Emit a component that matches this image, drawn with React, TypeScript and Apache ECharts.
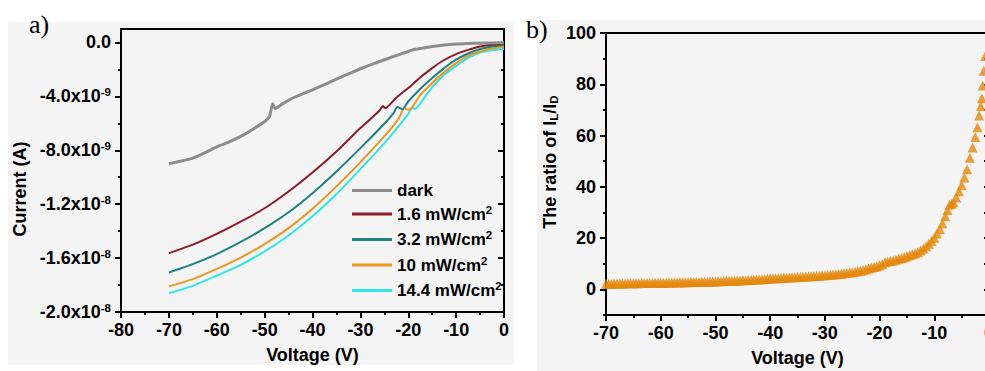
import React, { useEffect, useRef } from 'react';
import * as echarts from 'echarts';

// ---------- Panel a: I-V curves (current in nA) ----------
const darkV = [-70, -67.5, -65, -62.5, -60, -57.5, -55, -52.5, -50, -49, -48.3, -47.8, -46, -44, -42, -40, -37.5, -35, -32.5, -30, -27.5, -25, -22.5, -20, -19, -17, -15, -12.5, -10, -7.5, -5, -2.5, 0];
const darkI = [-9.0, -8.8, -8.58, -8.2, -7.75, -7.4, -6.97, -6.45, -5.86, -5.5, -4.55, -4.9, -4.5, -4.1, -3.8, -3.51, -3.12, -2.72, -2.33, -1.95, -1.6, -1.28, -0.97, -0.67, -0.54, -0.42, -0.3, -0.19, -0.12, -0.08, -0.05, -0.03, -0.02];

const l16V = [-70, -65, -60, -55, -50, -45, -40, -35, -30, -27.5, -26, -25.3, -24.8, -22.5, -20, -17.5, -15, -12.5, -10, -7.5, -5, -2.5, 0];
const l16I = [-15.63, -15.0, -14.2, -13.3, -12.3, -11.06, -9.65, -8.09, -6.35, -5.55, -5.05, -4.72, -4.88, -4.1, -3.38, -2.6, -1.9, -1.3, -0.86, -0.55, -0.3, -0.17, -0.12];

const l32V = [-70, -65, -60, -55, -50, -45, -40, -35, -30, -25, -23, -22.3, -21.8, -21.2, -20, -17.5, -15, -12.5, -10, -7.5, -5, -2.5, 0];
const l32I = [-17.07, -16.45, -15.7, -14.8, -13.78, -12.6, -11.18, -9.57, -7.84, -6.03, -5.2, -4.78, -4.85, -4.95, -4.38, -3.45, -2.64, -1.9, -1.28, -0.82, -0.49, -0.3, -0.19];

const l10V = [-70, -65, -60, -55, -50, -45, -40, -35, -30, -25, -22, -20.8, -20.2, -19.5, -17.5, -15, -12.5, -10, -7.5, -5, -2.5, 0];
const l10I = [-18.1, -17.56, -16.8, -15.96, -14.96, -13.78, -12.34, -10.68, -8.88, -6.97, -5.65, -4.85, -4.98, -4.95, -3.9, -3.01, -2.2, -1.53, -1.0, -0.67, -0.45, -0.34];

const l144V = [-70, -65, -60, -55, -50, -45, -40, -35, -30, -25, -22, -20, -19.2, -18.6, -18, -15, -12.5, -10, -7.5, -5, -2.5, 0];
const l144I = [-18.6, -18.06, -17.3, -16.5, -15.5, -14.32, -12.9, -11.25, -9.4, -7.47, -6.2, -5.3, -4.8, -4.95, -4.75, -3.31, -2.4, -1.74, -1.15, -0.74, -0.57, -0.49];

const seriesNames = ['dark', '1.6 mW/cm2', '3.2 mW/cm2', '10 mW/cm2', '14.4 mW/cm2'];
const seriesColors = ['#8c8c8c', '#8b1c24', '#1f8080', '#ea961f', '#30e4ea'];
const seriesWidths = [3, 2, 2, 2, 2];

const currentTicks = [0, -4, -8, -12, -16, -20];
const currentTickBase = ['0.0', '-4.0x10', '-8.0x10', '-1.2x10', '-1.6x10', '-2.0x10'];
const currentTickExp = ['', '-9', '-9', '-8', '-8', '-8'];
const currentMinorTicks = [-2, -6, -10, -14, -18];

// ---------- Panel b: ratio IL/ID ----------
const ratioV = [
  -70, -69.5, -69, -68.5, -68, -67.5, -67, -66.5, -66, -65.5, -65, -64.5, -64, -63.5, -63, -62.5, -62, -61.5, -61, -60.5, -60,
  -59.5, -59, -58.5, -58, -57.5, -57, -56.5, -56, -55.5, -55, -54.5, -54, -53.5, -53, -52.5, -52, -51.5, -51, -50.5, -50,
  -49.5, -49, -48.5, -48, -47.5, -47, -46.5, -46, -45.5, -45, -44.5, -44, -43.5, -43, -42.5, -42, -41.5, -41, -40.5, -40,
  -39.5, -39, -38.5, -38, -37.5, -37, -36.5, -36, -35.5, -35, -34.5, -34, -33.5, -33, -32.5, -32, -31.5, -31, -30.5, -30,
  -29.5, -29, -28.5, -28, -27.5, -27, -26.5, -26, -25.5, -25, -24.5, -24, -23.5, -23, -22.5, -22, -21.5, -21, -20.5, -20,
  -19.5, -19, -18.5, -18, -17.5, -17, -16.5, -16, -15.5, -15, -14.5, -14, -13.5, -13, -12.5, -12, -11.5, -11, -10.5, -10,
  -9.5, -9, -8.5, -8, -7.6, -7.2, -6.8, -6.5, -6, -5.5, -5, -4.5, -4, -3.5, -3, -2.5, -2.1, -1.8, -1.5, -1.3, -1.15, -0.95, -0.7
];
const ratioR = [
  2.2, 2.2, 2.2, 2.3, 2.3, 2.3, 2.3, 2.3, 2.4, 2.4, 2.4, 2.4, 2.4, 2.5, 2.5, 2.5, 2.5, 2.5, 2.6, 2.6, 2.6,
  2.6, 2.6, 2.7, 2.7, 2.7, 2.7, 2.8, 2.8, 2.8, 2.8, 2.9, 2.9, 2.9, 2.9, 3.0, 3.0, 3.0, 3.0, 3.1, 3.1,
  3.15, 3.2, 3.3, 3.5, 3.4, 3.35, 3.4, 3.45, 3.5, 3.55, 3.6, 3.65, 3.7, 3.75, 3.8, 3.85, 3.9, 4.0, 4.1, 4.2,
  4.25, 4.3, 4.35, 4.4, 4.5, 4.55, 4.6, 4.7, 4.75, 4.8, 4.85, 4.9, 5.0, 5.05, 5.1, 5.2, 5.25, 5.3, 5.4, 5.5,
  5.6, 5.7, 5.8, 5.9, 6.0, 6.1, 6.25, 6.4, 6.55, 6.7, 6.9, 7.1, 7.3, 7.5, 7.8, 8.1, 8.4, 8.7, 9.0, 9.4,
  9.8, 10.6, 10.9, 11.1, 11.3, 11.6, 11.9, 12.2, 12.5, 12.9, 13.3, 13.7, 14.1, 14.5, 15.2, 15.9, 16.8, 17.8, 18.9, 20.1,
  21.8, 23.5, 25.8, 28.5, 31.0, 33.1, 33.4, 34.0, 35.8, 38.3, 40.6, 43.6, 46.9, 51.3, 55.3, 59.4, 63.2, 67.8, 71.5, 74.5, 79.5, 85.3, 91.0
];
const ratioTicks = [0, 20, 40, 60, 80, 100];
const ratioMinorTicks = [-10, 10, 30, 50, 70, 90];

const FONT = 'Liberation Sans, Arial, sans-serif';
const BLACK = '#000';
const FS = 18;

const labelStyle = { fontFamily: FONT, fontWeight: 'bold' as const, fontSize: FS, color: BLACK };
const nameStyle = { fontFamily: FONT, fontWeight: 'bold' as const, fontSize: FS, color: BLACK };

function pairs(xs: number[], ys: number[]) {
  return xs.map((x, i) => [x, ys[i]]);
}

function yAxisDef(gridIndex: number, min: number, max: number, position: 'left' | 'right', ticks: number[], inside: boolean, length: number, showLine: boolean, extra: any = {}) {
  return {
    type: 'value',
    gridIndex,
    min,
    max,
    position,
    axisLine: { show: showLine, onZero: false, lineStyle: { color: BLACK, width: 2 } },
    axisTick: { show: true, inside, length, customValues: ticks, lineStyle: { color: BLACK, width: 2 } },
    axisLabel: { show: false },
    splitLine: { show: false },
    ...extra,
  };
}

function buildOption() {
  const lineData = [pairs(darkV, darkI), pairs(l16V, l16I), pairs(l32V, l32I), pairs(l10V, l10I), pairs(l144V, l144I)];
  const xCommon = (gridIndex: number, min: number) => ({
    type: 'value',
    gridIndex,
    min,
    max: 0,
    interval: 10,
    position: 'bottom',
    axisLine: { show: true, onZero: false, lineStyle: { color: BLACK, width: 2 } },
    axisTick: { show: true, inside: false, length: 6, lineStyle: { color: BLACK, width: 2 } },
    minorTick: { show: true, splitNumber: 2, length: 3, lineStyle: { color: BLACK, width: 2 } },
    splitLine: { show: false },
    minorSplitLine: { show: false },
    axisLabel: { ...labelStyle, margin: 9 },
    name: 'Voltage (V)',
    nameLocation: 'middle',
    nameGap: 34,
    nameTextStyle: nameStyle,
  });

  const supRich = (fs: number) => ({
    m: { fontFamily: FONT, fontWeight: 'bold', fontSize: fs, color: BLACK, lineHeight: 21 },
    s: { fontFamily: FONT, fontWeight: 'bold', fontSize: 11.5, color: BLACK, lineHeight: 12, padding: [0, 0, 9, 0] },
  });

  return {
    animation: false,
    backgroundColor: '#ffffff',
    graphic: [
      { type: 'rect', z: -10, shape: { x: 8, y: 22, width: 506, height: 343 }, style: { fill: '#f4f4f4' } },
      { type: 'rect', z: -10, shape: { x: 537, y: 20, width: 448, height: 351 }, style: { fill: '#f4f4f4' } },
      { type: 'text', z: 100, x: 29, y: 24, style: { text: 'a)', fontFamily: 'Liberation Serif, Times New Roman, serif', fontSize: 26, fill: BLACK, verticalAlign: 'middle' } },
      { type: 'text', z: 100, x: 526, y: 29, style: { text: 'b)', fontFamily: 'Liberation Serif, Times New Roman, serif', fontSize: 26, fill: BLACK, verticalAlign: 'middle' } },
    ],
    grid: [
      { left: 121, top: 29, right: 481, bottom: 59, show: true, borderColor: BLACK, borderWidth: 2, backgroundColor: 'transparent', containLabel: false, outerBoundsMode: 'none' },
      { left: 606, top: 33, right: -4, bottom: 56, show: true, borderColor: BLACK, borderWidth: 2, backgroundColor: 'transparent', containLabel: false, outerBoundsMode: 'none' },
    ],
    legend: {
      data: seriesNames,
      orient: 'vertical',
      left: 347,
      top: 177,
      icon: 'rect',
      itemWidth: 40,
      itemHeight: 3,
      itemGap: 4.5,
      formatter: (name: string) => (name.endsWith('cm2') ? `{m|${name.slice(0, -1)}}{s|2}` : `{m|${name}}`),
      textStyle: { rich: supRich(17) },
    },
    xAxis: [xCommon(0, -80), xCommon(1, -70)],
    yAxis: [
      yAxisDef(0, -20, 1, 'left', currentTicks, false, 6, true, {
        axisLabel: {
          show: true,
          customValues: currentTicks,
          margin: 10,
          formatter: (v: number) => {
            const i = currentTicks.findIndex((t) => Math.abs(t - v) < 1e-6);
            if (i < 0) return '';
            return currentTickExp[i] ? `{m|${currentTickBase[i]}}{s|${currentTickExp[i]}}` : `{m|${currentTickBase[i]}}`;
          },
          rich: supRich(FS),
        },
        name: 'Current (A)',
        nameLocation: 'middle',
        nameGap: 92,
        nameTextStyle: { ...nameStyle, padding: [0, 37, 0, 0] },
      }),
      yAxisDef(0, -20, 1, 'left', currentMinorTicks, false, 3, false),
      yAxisDef(0, -20, 1, 'right', currentTicks, true, 6, true),
      yAxisDef(0, -20, 1, 'right', currentMinorTicks, true, 3, false),
      yAxisDef(1, -10, 100, 'left', ratioTicks, false, 6, true, {
        axisLabel: { show: true, customValues: ratioTicks, margin: 10, ...labelStyle },
        name: '{t|The ratio of I}{sub|L}{t|/I}{sub|D}',
        nameLocation: 'middle',
        nameGap: 46,
        nameTextStyle: {
          padding: [0, 0, 0, 24],
          rich: {
            t: { fontFamily: FONT, fontWeight: 'bold', fontSize: FS, color: BLACK, lineHeight: 21 },
            sub: { fontFamily: FONT, fontWeight: 'bold', fontSize: 11.5, color: BLACK, lineHeight: 12, padding: [9, 0, 0, 0] },
          },
        },
      }),
      yAxisDef(1, -10, 100, 'left', ratioMinorTicks, false, 3, false),
      yAxisDef(1, -10, 100, 'right', ratioTicks, true, 5, true),
      yAxisDef(1, -10, 100, 'right', ratioMinorTicks, true, 5, false),
    ],
    series: [
      ...lineData.map((d, i) => ({
        name: seriesNames[i],
        type: 'line',
        xAxisIndex: 0,
        yAxisIndex: 0,
        data: d,
        symbol: 'none',
        showSymbol: false,
        smooth: 0.2,
        color: seriesColors[i],
        lineStyle: { color: seriesColors[i], width: seriesWidths[i] },
        z: 5 - i,
      })),
      {
        name: 'ratio',
        type: 'scatter',
        xAxisIndex: 1,
        yAxisIndex: 4,
        data: pairs(ratioV, ratioR),
        symbol: 'triangle',
        symbolSize: 10,
        itemStyle: { color: '#e3880c' },
        clip: true,
      },
    ],
  };
}

export default function App() {
  const ref = useRef<HTMLDivElement>(null);
  useEffect(() => {
    if (!ref.current) return;
    const chart = echarts.init(ref.current, null, { renderer: 'svg' });
    chart.setOption(buildOption() as any);
    return () => chart.dispose();
  }, []);
  return <div ref={ref} style={{ position: 'fixed', left: 0, top: 0, width: 985, height: 371, background: '#fff' }} />;
}
